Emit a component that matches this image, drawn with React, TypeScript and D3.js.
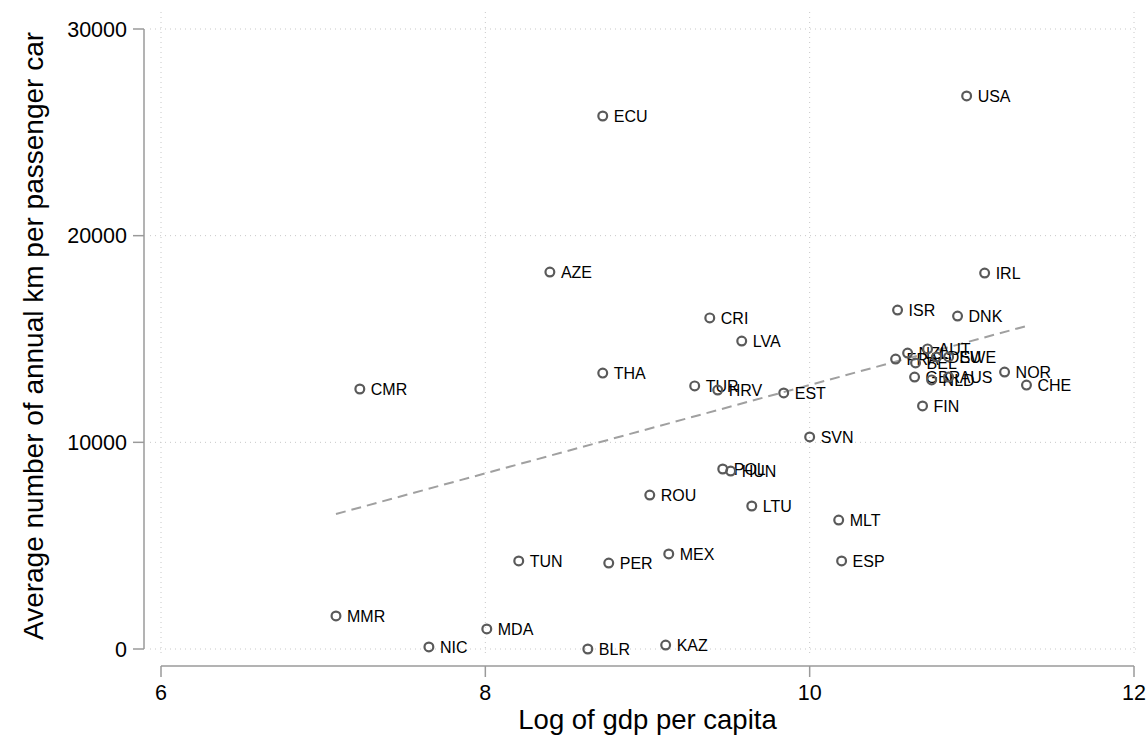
import React from "react";
import * as d3 from "d3";

// Country codes, log GDP per capita, average annual km per passenger car
const codes = ["USA","ECU","AZE","IRL","ISR","DNK","CRI","LVA","THA","TUR","HRV","EST","CMR","SVN","POL","HUN","ROU","LTU","MLT","MEX","TUN","PER","ESP","MMR","MDA","NIC","BLR","KAZ","FRA","NZL","AUT","BEL","DEU","SWE","GBR","NLD","AUS","NOR","CHE","FIN"];
const logGdp = [10.968,8.724,8.398,11.079,10.542,10.912,9.384,9.581,8.724,9.291,9.433,9.840,7.226,10.0,9.464,9.513,9.014,9.643,10.179,9.131,8.206,8.761,10.197,7.079,8.009,7.652,8.632,9.112,10.530,10.604,10.727,10.653,10.783,10.857,10.647,10.752,10.857,11.202,11.337,10.696];
const kmPerCar = [26760,25790,18240,18190,16400,16110,16020,14900,13350,12730,12530,12390,12580,10260,8710,8610,7450,6920,6240,4600,4260,4160,4260,1600,970,100,0,190,14030,14320,14520,13840,14130,14130,13160,13020,13160,13400,12770,11760];

const xTicks = [6, 8, 10, 12];
const yTicks = [0, 10000, 20000, 30000];

// Linear fit of km per car on log GDP
const fitIntercept = -8592;
const fitSlope = 2136.5;

const W = 1146;
const H = 742;

export default function App() {
  const x = d3.scaleLinear().domain([6, 12]).range([161, 1134]);
  const y = d3.scaleLinear().domain([0, 30000]).range([649, 29]);
  const font = "'Liberation Sans', Arial, Helvetica, sans-serif";
  const axisColor = "#9a9a9a";
  const gridColor = "#c8c8c8";

  const xMin = d3.min(logGdp) as number;
  const xMax = d3.max(logGdp) as number;
  const fitLine = d3.line<number>()
    .x((v) => x(v))
    .y((v) => y(fitIntercept + fitSlope * v))([xMin, xMax]);

  return (
    <svg width={W} height={H} style={{ position: "absolute", left: 0, top: 0, background: "#fff" }} fontFamily={font}>
      <rect x={0} y={0} width={W} height={H} fill="#fff" />
      {/* grid */}
      {xTicks.map((t) => (
        <line key={"gx" + t} x1={x(t)} x2={x(t)} y1={12} y2={656} stroke={gridColor} strokeWidth={1} strokeDasharray="1,4" />
      ))}
      {yTicks.map((t) => (
        <line key={"gy" + t} x1={150} x2={1140} y1={y(t)} y2={y(t)} stroke={gridColor} strokeWidth={1} strokeDasharray="1,4" />
      ))}

      {/* y axis */}
      <line x1={144} x2={144} y1={y(30000)} y2={y(0)} stroke={axisColor} strokeWidth={1.5} />
      {yTicks.map((t) => (
        <g key={"yt" + t}>
          <line x1={133} x2={144} y1={y(t)} y2={y(t)} stroke={axisColor} strokeWidth={1.5} />
          <text x={127} y={y(t)} dy="0.36em" textAnchor="end" fontSize={21.5} fill="#000">{t}</text>
        </g>
      ))}
      <text transform={`translate(33,${(y(0) + y(30000)) / 2 - 3}) rotate(-90)`} textAnchor="middle" dy="0.36em" fontSize={28} fill="#000">
        Average number of annual km per passenger car
      </text>

      {/* x axis */}
      <line x1={x(6)} x2={x(12)} y1={666} y2={666} stroke={axisColor} strokeWidth={1.5} />
      {xTicks.map((t) => (
        <g key={"xt" + t}>
          <line x1={x(t)} x2={x(t)} y1={666} y2={677} stroke={axisColor} strokeWidth={1.5} />
          <text x={x(t)} y={700} textAnchor="middle" fontSize={21.5} fill="#000">{t}</text>
        </g>
      ))}
      <text x={(x(6) + x(12)) / 2} y={729} textAnchor="middle" fontSize={27.5} fill="#000">
        Log of gdp per capita
      </text>

      {/* fitted line */}
      <path d={fitLine || ""} fill="none" stroke="#a0a0a0" strokeWidth={2} strokeDasharray="10,6" />

      {/* points */}
      {codes.map((c, i) => (
        <g key={c}>
          <circle cx={x(logGdp[i])} cy={y(kmPerCar[i])} r={4.4} fill="none" stroke="#5a5a5a" strokeWidth={2.2} />
          <text x={x(logGdp[i]) + 11} y={y(kmPerCar[i])} dy="0.36em" fontSize={16} fill="#000">{c}</text>
        </g>
      ))}
    </svg>
  );
}
